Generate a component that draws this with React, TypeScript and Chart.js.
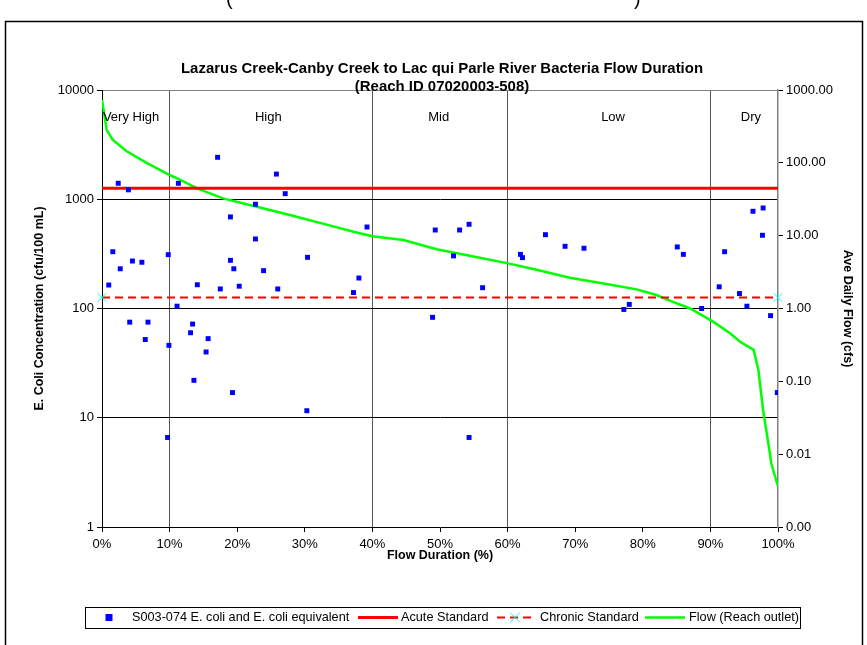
import React, { useEffect, useRef } from "react";
import { Chart, registerables } from "chart.js";

Chart.register(...registerables);

// ---- Data ----
const sampleDurationPct = [
  2.4, 3.9, 17.1, 25.8, 27.1, 11.3, 22.7, 19.0, 39.2, 22.7,
  1.6, 9.8, 2.7, 4.5, 5.9, 19.0, 19.5, 23.9, 30.4, 1.0,
  14.1, 17.5, 20.3, 26.0, 38.0, 37.2, 11.1, 4.1, 6.8, 13.4,
  13.1, 6.4, 15.7, 9.9, 15.4, 13.6, 19.3, 30.3, 9.7, 49.3,
  52.9, 54.3, 52.0, 56.3, 48.9, 54.3, 61.9, 62.2, 65.6, 68.5,
  71.3, 77.2, 78.0, 85.1, 86.0, 88.7, 92.1, 91.3, 94.3, 95.4,
  96.3, 97.8, 97.7, 98.9, 99.9,
];
const sampleEcoli = [
  1400, 1220, 2420, 1700, 1125, 1400, 900, 689, 557, 433,
  331, 311, 231, 272, 265, 276, 231, 222, 294, 164,
  165, 151, 160, 151, 190, 140, 105, 75, 75, 72,
  60, 52, 53, 46, 40, 22, 17, 11.6, 6.6, 523,
  523, 590, 303, 155, 83, 6.6, 313, 292, 474, 371,
  356, 98, 109, 366, 313, 100, 331, 158, 137, 105,
  776, 832, 468, 86, 17,
];

const flowDurationPct = [
  0, 0.7, 1.6, 3.6, 6.6, 9.6, 11.3, 14.0, 17.9, 22.9,
  27.8, 32.8, 37.2, 40.0, 44.6, 49.5, 54.4, 59.9, 64.3, 69.2,
  74.2, 79.1, 82.0, 84.0, 87.0, 90.4, 92.9, 94.4, 96.4, 97.1,
  97.8, 98.8, 99.0, 100,
];
const flowCfs = [
  730, 282, 206, 145, 100, 71, 60, 45, 32.5, 25,
  19.2, 14.5, 11.3, 9.8, 8.7, 6.5, 5.3, 4.2, 3.4, 2.65,
  2.2, 1.83, 1.53, 1.28, 1.0, 0.66, 0.456, 0.35, 0.27, 0.143,
  0.04, 0.0103, 0.0075, 0.0036,
];

const standardPct = [0, 100];
const acuteStandard = 1260;
const chronicStandard = 126;

const zoneNames = ["Very High", "High", "Mid", "Low", "Dry"];
const zoneLabelPct = [4.3, 24.6, 49.8, 75.6, 96.0];
const zoneBoundaryPct = [10, 40, 60, 90];

const xTickValues = [0, 10, 20, 30, 40, 50, 60, 70, 80, 90, 100];
const leftTickValues = [1, 10, 100, 1000, 10000];
const rightTickValues = [0.001, 0.01, 0.1, 1, 10, 100, 1000];

const titleLines = [
  "Lazarus Creek-Canby Creek to Lac qui Parle River Bacteria Flow Duration",
  "(Reach ID 07020003-508)",
];
const leftAxisTitle = "E. Coli Concentration (cfu/100 mL)";
const rightAxisTitle = "Ave Daily Flow (cfs)";
const xAxisTitle = "Flow Duration (%)";
const seriesNames = [
  "S003-074 E. coli and E. coli equivalent",
  "Acute Standard",
  "Chronic Standard",
  "Flow (Reach outlet)",
];

const FONT = "'Liberation Sans', Arial, sans-serif";

function stretchedText(ctx: any, text: string, x: number, y: number, sx: number) {
  ctx.save();
  ctx.translate(x, y);
  ctx.scale(sx, 1);
  ctx.fillText(text, 0, 0);
  ctx.restore();
}

const decorPlugin = {
  id: "decor",
  beforeDraw(chart: any) {
    const { ctx } = chart;
    ctx.save();
    ctx.fillStyle = "#ffffff";
    ctx.fillRect(0, 0, chart.width, chart.height);
    ctx.restore();
  },
  afterDraw(chart: any) {
    const { ctx, chartArea, scales } = chart;
    ctx.save();
    // outer frame
    ctx.strokeStyle = "#000";
    ctx.lineWidth = 1.5;
    ctx.strokeRect(5.5, 21.5, 857, 700);

    // cut-off caption parentheses at the very top
    ctx.fillStyle = "#000";
    ctx.font = `20px ${FONT}`;
    ctx.textBaseline = "alphabetic";
    ctx.textAlign = "left";
    ctx.fillText("(", 226, 5);
    ctx.fillText(")", 634, 5);

    // title
    ctx.font = `bold 14px ${FONT}`;
    ctx.textAlign = "center";
    ctx.textBaseline = "middle";
    const w0 = ctx.measureText(titleLines[0]).width;
    const sx = 522 / w0;
    stretchedText(ctx, titleLines[0], 442, 69, sx);
    stretchedText(ctx, titleLines[1], 442, 87, sx);

    // zone labels
    ctx.font = `13px ${FONT}`;
    zoneNames.forEach((n, i) => {
      ctx.fillText(n, scales.x.getPixelForValue(zoneLabelPct[i]), chartArea.top + 27);
    });

    // axis titles
    ctx.font = `bold 12.5px ${FONT}`;
    ctx.fillText(xAxisTitle, (chartArea.left + chartArea.right) / 2, 556);
    const midY = (chartArea.top + chartArea.bottom) / 2;
    ctx.save();
    ctx.translate(40, midY);
    ctx.rotate(-Math.PI / 2);
    ctx.fillText(leftAxisTitle, 0, 0);
    ctx.restore();
    ctx.save();
    ctx.translate(847, midY);
    ctx.rotate(Math.PI / 2);
    ctx.fillText(rightAxisTitle, 0, 0);
    ctx.restore();

    // legend
    const ly = 617.5;
    ctx.fillStyle = "#fff";
    ctx.fillRect(85, 607, 715, 21);
    ctx.strokeStyle = "#000";
    ctx.lineWidth = 1;
    ctx.strokeRect(85.5, 607.5, 715, 21);
    ctx.fillStyle = "#0000FF";
    ctx.fillRect(105.5, ly - 3.5, 7, 7);
    ctx.fillStyle = "#000";
    ctx.font = `12.7px ${FONT}`;
    ctx.textAlign = "left";
    ctx.fillText(seriesNames[0], 132, ly);
    ctx.strokeStyle = "#FF0000";
    ctx.lineWidth = 3;
    ctx.beginPath();
    ctx.moveTo(358, ly);
    ctx.lineTo(398, ly);
    ctx.stroke();
    ctx.fillText(seriesNames[1], 401, ly);
    ctx.lineWidth = 2;
    ctx.setLineDash([8, 5]);
    ctx.beginPath();
    ctx.moveTo(497, ly);
    ctx.lineTo(531, ly);
    ctx.stroke();
    ctx.setLineDash([]);
    ctx.strokeStyle = "#00FFFF";
    ctx.lineWidth = 1;
    ctx.beginPath();
    ctx.moveTo(510, ly - 5);
    ctx.lineTo(520, ly + 5);
    ctx.moveTo(520, ly - 5);
    ctx.lineTo(510, ly + 5);
    ctx.stroke();
    ctx.fillText(seriesNames[2], 540, ly);
    ctx.strokeStyle = "#00FF00";
    ctx.lineWidth = 2.5;
    ctx.beginPath();
    ctx.moveTo(645, ly);
    ctx.lineTo(685, ly);
    ctx.stroke();
    ctx.fillText(seriesNames[3], 689, ly);
    ctx.restore();
  },
};

export default function App() {
  const ref = useRef<HTMLCanvasElement | null>(null);

  useEffect(() => {
    document.body.style.margin = "0";
    const canvas = ref.current;
    if (!canvas) return;
    const chart = new Chart(canvas, {
      type: "scatter",
      data: {
        datasets: [
          {
            label: seriesNames[0],
            data: sampleDurationPct.map((x, i) => ({ x, y: sampleEcoli[i] })),
            pointStyle: "rect",
            pointRadius: 3.5,
            pointHoverRadius: 3.5,
            backgroundColor: "#0000FF",
            borderColor: "#0000FF",
            borderWidth: 0,
            yAxisID: "y",
            order: 0,
          },
          {
            label: seriesNames[1],
            type: "line",
            data: standardPct.map((x) => ({ x, y: acuteStandard })),
            borderColor: "#FF0000",
            borderWidth: 3,
            pointRadius: 0,
            yAxisID: "y",
            order: 2,
          },
          {
            label: seriesNames[2],
            type: "line",
            data: standardPct.map((x) => ({ x, y: chronicStandard })),
            borderColor: "#FF0000",
            borderWidth: 2,
            borderDash: [8, 5],
            pointStyle: "crossRot",
            pointRadius: 6,
            pointBorderColor: "#00FFFF",
            pointBackgroundColor: "#00FFFF",
            pointBorderWidth: 1,
            yAxisID: "y",
            clip: false,
            order: 1,
          },
          {
            label: seriesNames[3],
            type: "line",
            data: flowDurationPct.map((x, i) => ({ x, y: flowCfs[i] })),
            borderColor: "#00FF00",
            borderWidth: 2.5,
            pointRadius: 0,
            tension: 0,
            yAxisID: "y2",
            order: 3,
          },
        ],
      } as any,
      options: {
        animation: false,
        responsive: false,
        maintainAspectRatio: false,
        layout: { padding: { top: 90, left: 0, right: 0, bottom: 0 } },
        plugins: {
          legend: { display: false },
          title: { display: false },
          tooltip: { enabled: false },
        },
        scales: {
          x: {
            type: "linear",
            position: "bottom",
            min: 0,
            max: 100,
            afterBuildTicks: (s: any) => {
              s.ticks = xTickValues.map((v) => ({ value: v }));
            },
            afterFit: (s: any) => {
              s.height = 118;
            },
            ticks: {
              callback: (v: any) => `${v}%`,
              color: "#000",
              font: { family: FONT, size: 13 },
              padding: 5,
              maxRotation: 0,
              autoSkip: false,
            },
            grid: {
              color: (c: any) =>
                c.tick && zoneBoundaryPct.includes(c.tick.value) ? "#555555" : "rgba(0,0,0,0)",
              tickColor: "#000",
              tickLength: 5,
              lineWidth: 1,
            },
            border: { color: "#000", width: 1 },
          },
          y: {
            type: "logarithmic",
            position: "left",
            min: 1,
            max: 10000,
            afterBuildTicks: (s: any) => {
              s.ticks = leftTickValues.map((v) => ({ value: v }));
            },
            afterFit: (s: any) => {
              s.width = 102;
            },
            ticks: {
              callback: (v: any) => String(v),
              color: "#000",
              font: { family: FONT, size: 13 },
              padding: 3,
              autoSkip: false,
            },
            grid: {
              color: (c: any) => {
                const v = c.tick && c.tick.value;
                if (v === 10000) return "#808080";
                if (v === 1) return "rgba(0,0,0,0)";
                return "#000";
              },
              tickColor: "#000",
              tickLength: 5,
              lineWidth: 1,
            },
            border: { color: "#000", width: 1 },
          },
          y2: {
            type: "logarithmic",
            position: "right",
            min: 0.001,
            max: 1000,
            afterBuildTicks: (s: any) => {
              s.ticks = rightTickValues.map((v) => ({ value: v }));
            },
            afterFit: (s: any) => {
              s.width = 89;
            },
            ticks: {
              callback: (v: any) => Number(v).toFixed(2),
              color: "#000",
              font: { family: FONT, size: 13 },
              padding: 3,
              autoSkip: false,
            },
            grid: {
              drawOnChartArea: false,
              tickColor: "#000",
              tickLength: 5,
            },
            border: { color: "#808080", width: 1.5 },
          },
        },
      } as any,
      plugins: [decorPlugin],
    });
    return () => chart.destroy();
  }, []);

  return (
    <div style={{ width: 867, height: 645, background: "#fff" }}>
      <canvas ref={ref} width={867} height={645} style={{ display: "block", width: 867, height: 645 }} />
    </div>
  );
}
